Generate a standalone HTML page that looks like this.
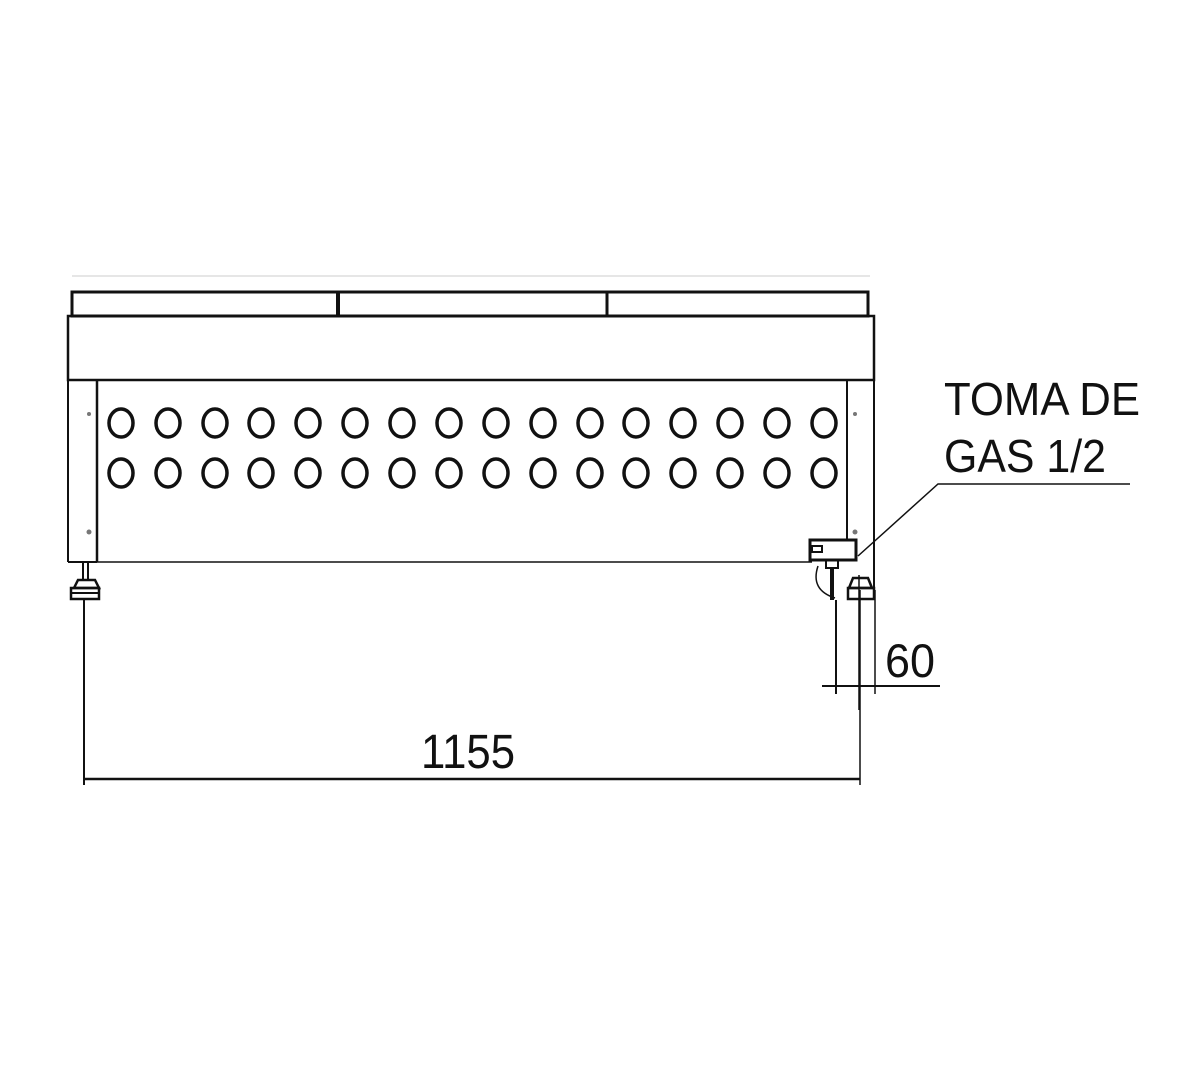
<!DOCTYPE html>
<html><head><style>html,body{margin:0;padding:0;background:#fff}svg{display:block}</style></head>
<body>
<svg width="1200" height="1080" viewBox="0 0 1200 1080" xmlns="http://www.w3.org/2000/svg" font-family="Liberation Sans, sans-serif">
<g stroke="#111" fill="none">
<!-- top faint dimension line -->
<line x1="72" y1="276" x2="870" y2="276" stroke="#ccc" stroke-width="1"/>
<!-- top strip -->
<rect x="72" y="292" width="796" height="24" stroke-width="3"/>
<line x1="338" y1="292" x2="338" y2="316" stroke-width="4"/>
<line x1="607" y1="292" x2="607" y2="316" stroke-width="3"/>
<!-- body -->
<rect x="68" y="316" width="806" height="64" stroke-width="2.5"/>
<line x1="68" y1="380" x2="68" y2="562" stroke-width="2"/>
<line x1="874" y1="380" x2="874" y2="590" stroke-width="2"/>
<line x1="97" y1="380" x2="97" y2="562" stroke-width="2.5"/>
<line x1="847" y1="380" x2="847" y2="540" stroke-width="2"/>
<line x1="68" y1="562" x2="97" y2="562" stroke-width="2"/>
<line x1="97" y1="562" x2="812" y2="562" stroke-width="1.5"/>
</g>
<g fill="#777"><circle cx="89" cy="414" r="2"/><circle cx="89" cy="532" r="2.5"/><circle cx="855" cy="414" r="2"/><circle cx="855" cy="532" r="2.5"/></g>
<g stroke="#111" stroke-width="3.5" fill="none" id="holes">
<ellipse cx="121" cy="423" rx="12" ry="14"/><ellipse cx="168" cy="423" rx="12" ry="14"/><ellipse cx="215" cy="423" rx="12" ry="14"/><ellipse cx="261" cy="423" rx="12" ry="14"/><ellipse cx="308" cy="423" rx="12" ry="14"/><ellipse cx="355" cy="423" rx="12" ry="14"/><ellipse cx="402" cy="423" rx="12" ry="14"/><ellipse cx="449" cy="423" rx="12" ry="14"/><ellipse cx="496" cy="423" rx="12" ry="14"/><ellipse cx="543" cy="423" rx="12" ry="14"/><ellipse cx="590" cy="423" rx="12" ry="14"/><ellipse cx="636" cy="423" rx="12" ry="14"/><ellipse cx="683" cy="423" rx="12" ry="14"/><ellipse cx="730" cy="423" rx="12" ry="14"/><ellipse cx="777" cy="423" rx="12" ry="14"/><ellipse cx="824" cy="423" rx="12" ry="14"/>
<ellipse cx="121" cy="473" rx="12" ry="14"/><ellipse cx="168" cy="473" rx="12" ry="14"/><ellipse cx="215" cy="473" rx="12" ry="14"/><ellipse cx="261" cy="473" rx="12" ry="14"/><ellipse cx="308" cy="473" rx="12" ry="14"/><ellipse cx="355" cy="473" rx="12" ry="14"/><ellipse cx="402" cy="473" rx="12" ry="14"/><ellipse cx="449" cy="473" rx="12" ry="14"/><ellipse cx="496" cy="473" rx="12" ry="14"/><ellipse cx="543" cy="473" rx="12" ry="14"/><ellipse cx="590" cy="473" rx="12" ry="14"/><ellipse cx="636" cy="473" rx="12" ry="14"/><ellipse cx="683" cy="473" rx="12" ry="14"/><ellipse cx="730" cy="473" rx="12" ry="14"/><ellipse cx="777" cy="473" rx="12" ry="14"/><ellipse cx="824" cy="473" rx="12" ry="14"/>
</g>
<g stroke="#111" fill="none">
<!-- left foot -->
<line x1="83" y1="562" x2="83" y2="580" stroke-width="2"/><line x1="88" y1="562" x2="88" y2="580" stroke-width="2"/>
<path d="M74 588 L78 580 L95 580 L99 588 Z" stroke-width="2.5"/>
<rect x="71" y="588" width="28" height="11" stroke-width="2.5"/>
<line x1="71" y1="593" x2="99" y2="593" stroke-width="2"/>
<!-- right foot & gas fitting -->
<path d="M849 588 L853 578 L868 578 L872 588 Z" stroke-width="2.5"/>
<rect x="848" y="588" width="26" height="11" stroke-width="2.5"/>
<rect x="810" y="540" width="46" height="20" stroke-width="3"/>
<rect x="812" y="546" width="10" height="6" stroke-width="2"/>
<rect x="826" y="560" width="12" height="8" stroke-width="2"/>
<line x1="832" y1="568" x2="832" y2="600" stroke-width="4"/>
<path d="M818 566 Q810 590 835 598" stroke-width="1.5"/>
<!-- 1155 dim -->
<line x1="84" y1="600" x2="84" y2="785" stroke-width="2"/>
<line x1="860" y1="590" x2="860" y2="785" stroke-width="1.5"/>
<line x1="84" y1="779" x2="860" y2="779" stroke-width="2.5"/>
<!-- 60 dim -->
<line x1="836" y1="600" x2="836" y2="694" stroke-width="2"/>
<line x1="875" y1="590" x2="875" y2="694" stroke-width="1.5"/>
<line x1="859" y1="575" x2="859" y2="710" stroke-width="1.5"/>
<line x1="822" y1="686" x2="940" y2="686" stroke-width="2"/>
<!-- leader -->
<polyline points="858,556 938,484 1130,484" stroke-width="1.5"/>
</g>
<g fill="#111">
<text x="944" y="415" font-size="46" textLength="196" lengthAdjust="spacingAndGlyphs">TOMA DE</text>
<text x="944" y="472" font-size="46" textLength="162" lengthAdjust="spacingAndGlyphs">GAS 1/2</text>
<text x="421" y="768" font-size="48" textLength="94" lengthAdjust="spacingAndGlyphs">1155</text>
<text x="885" y="677" font-size="47" textLength="50" lengthAdjust="spacingAndGlyphs">60</text>
</g>
</svg>
</body></html>
